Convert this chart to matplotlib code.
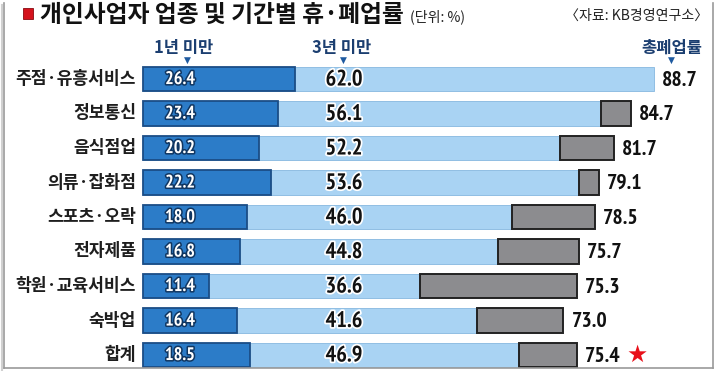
import matplotlib
matplotlib.use('Agg')
import matplotlib.pyplot as plt
from matplotlib import font_manager as fm
import matplotlib.patheffects as pe
from matplotlib.patches import Rectangle
from matplotlib.lines import Line2D

# ---------------- data ----------------
categories = ['주점·유흥서비스', '정보통신', '음식점업', '의류·잡화점', '스포츠·오락',
              '전자제품', '학원·교육서비스', '숙박업', '합계']
under1 = [26.4, 23.4, 20.2, 22.2, 18.0, 16.8, 11.4, 16.4, 18.5]      # 1년 미만
under3 = [62.0, 56.1, 52.2, 53.6, 46.0, 44.8, 36.6, 41.6, 46.9]      # 3년 미만
total = [88.7, 84.7, 81.7, 79.1, 78.5, 75.7, 75.3, 73.0, 75.4]       # 총폐업률
# end of the light-blue segment as drawn in the source graphic
light_end = [88.7, 79.5, 72.4, 75.7, 64.0, 61.6, 48.1, 57.9, 65.3]
headers = ['1년 미만', '3년 미만', '총폐업률']
title = '개인사업자 업종 및 기간별 휴·폐업률'
unit = '(단위: %)'
source = '〈자료: KB경영연구소〉'

# ---------------- fonts ----------------
KR = ['Noto Sans CJK KR', 'DejaVu Sans']


def pick_number_font():
    for f in fm.fontManager.ttflist:
        n = f.fname.lower()
        if 'narrow' in n and f.weight in ('bold', 700):
            return fm.FontProperties(fname=f.fname)
    for fam in ['Liberation Sans', 'Roboto', 'DejaVu Sans']:
        try:
            fm.findfont(fm.FontProperties(family=fam), fallback_to_default=False)
            return fm.FontProperties(family=fam, weight='bold')
        except Exception:
            pass
    return fm.FontProperties(family='DejaVu Sans', weight='bold')


NUMFP = pick_number_font()

# ---------------- colours ----------------
DARK = '#2c7cc8'
DARK_EDGE = '#1b4d86'
LIGHT = '#a9d3f3'
LIGHT_EDGE = '#86b7e0'
GRAY = '#8c8c8f'
GRAY_EDGE = '#222222'
NAVY = '#1b3e70'

W, H = 720, 371
X0, SX = 143.0, 5.76      # pixel of value 0, pixels per unit
Y0, SY = 79.0, 34.5       # pixel of first row centre, pixels per row

fig = plt.figure(figsize=(W / 100, H / 100), dpi=100)
fig.patch.set_facecolor('white')
ax = fig.add_axes([0, 0, 1, 1])
ax.set_xlim(-X0 / SX, (W - X0) / SX)
ax.set_ylim((H - Y0) / SY, -Y0 / SY)
ax.axis('off')
renderer = fig.canvas.get_renderer()


def px(x):
    return (x - X0) / SX


def py(y):
    return (y - Y0) / SY


def nfp(size):
    p = NUMFP.copy()
    p.set_size(size)
    return p


def fit(text, target, **kw):
    """font size so that text is about target pixels wide"""
    t = ax.text(0, 0, text, **kw)
    w = t.get_window_extent(renderer).width
    s = t.get_fontsize()
    t.remove()
    return s * target / max(w, 1)


fs_cat = fit('정보통신', 63, fontsize=10, family=KR, fontweight='bold')
fs_head = fit('1년 미만', 59, fontsize=10, family=KR, fontweight='bold')
fs_title = fit(title, 364, fontsize=10, family=KR, fontweight='bold')
fs_unit = fit(unit, 55, fontsize=10, family=KR)
fs_src = fit(source, 143, fontsize=10, family=KR)
fs_n1 = fit('26.4', 30, fontproperties=nfp(10))
fs_n3 = fit('62.0', 37, fontproperties=nfp(10))
fs_nt = fit('88.7', 36, fontproperties=nfp(10))

rows = list(range(len(categories)))
bh = 0.72

# light part underneath, dark part on top, gray remainder
ax.barh(rows, light_end, height=bh, color=LIGHT, edgecolor=LIGHT_EDGE, linewidth=0.6, zorder=2)
ax.barh(rows, under1, height=bh, color=DARK, edgecolor=DARK_EDGE, linewidth=1.3, zorder=3)
for i in rows:
    w = total[i] - light_end[i]
    if w > 0.05:
        ax.barh(i, w, left=light_end[i], height=bh, color=GRAY, edgecolor=GRAY_EDGE,
                linewidth=1.4, zorder=3)

# labels
for i in rows:
    ax.text(px(136), i, categories[i], ha='right', va='center', fontsize=fs_cat,
            fontweight='bold', color='#1e1e1e', family=KR)
    ax.text(px(180), i + 0.03, f'{under1[i]:.1f}', ha='center', va='center',
            fontproperties=nfp(fs_n1), color='white', zorder=5,
            path_effects=[pe.withStroke(linewidth=2.2, foreground='#103661')])
    ax.text(px(344), i + 0.03, f'{under3[i]:.1f}', ha='center', va='center',
            fontproperties=nfp(fs_n3), color='#111111', zorder=5,
            path_effects=[pe.withStroke(linewidth=2.5, foreground='white')])
    ax.text(total[i] + 1.4, i + 0.03, f'{total[i]:.1f}', ha='left', va='center',
            fontproperties=nfp(fs_nt), color='#111111', zorder=5)

# star next to total
ax.text(total[-1] + 10.3, len(rows) - 1, '★', ha='center', va='center', fontsize=17,
        color='#e8101a', family=['DejaVu Sans'])

# column headers
for hx, txt in zip([184, 342, 672], headers):
    ax.text(px(hx), py(48), txt, ha='center', va='center', fontsize=fs_head, fontweight='bold',
            color=NAVY, family=KR)
for hx in [187, 343, 671]:
    ax.text(px(hx), py(60.5), '▼', ha='center', va='center', fontsize=6.5,
            color='#1e5aa0', family=['DejaVu Sans'])

# title
ax.add_patch(Rectangle((px(23), py(19)), 10 / SX, -11 / SY, facecolor='#d4121c',
                       edgecolor='#8a0a10', linewidth=0.6, clip_on=False))
t = ax.text(px(40), py(15), title, ha='left', va='center', fontsize=fs_title, fontweight='bold',
            color='#111111', family=KR)
bb = t.get_window_extent(renderer)
ax.text(px(bb.x1 + 6), py(17), unit, ha='left', va='center', fontsize=fs_unit,
        color='#222222', family=KR)
ax.text(px(708), py(16), source, ha='right', va='center', fontsize=fs_src,
        color='#222222', family=KR, style='italic')


# frame (left, right, bottom edges)
def fline(xs, ys, **kw):
    fig.add_artist(Line2D([x / W for x in xs], [1 - y / H for y in ys],
                          transform=fig.transFigure, **kw))


fline([4, 4], [3, 368], color='#9a9a9a', lw=1.2)
fline([4, 713], [368, 368], color='#9a9a9a', lw=1.2)
fline([713, 713], [3, 368], color='#9a9a9a', lw=1.2)
fline([2, 2], [5, 370], color='#d0d0d0', lw=1.5)

fig.savefig('out.png', dpi=100, facecolor='white')
